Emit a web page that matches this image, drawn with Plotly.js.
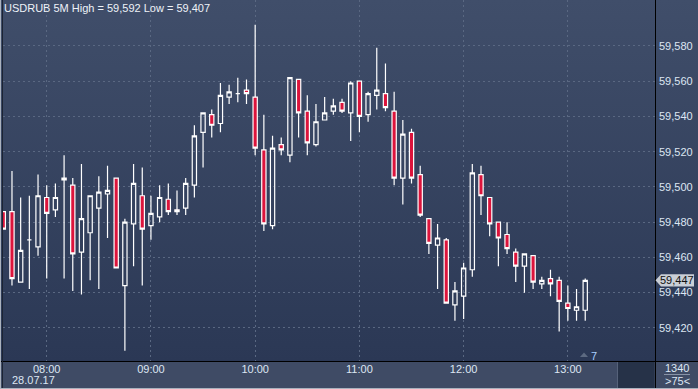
<!DOCTYPE html>
<html>
<head>
<meta charset="utf-8">
<script src="https://cdn.plot.ly/plotly-3.0.1.min.js"></script>
<style>
  html, body { margin: 0; padding: 0; background: #3f4b65; }
  #chart { width: 698px; height: 389px;
    background: linear-gradient(to bottom, #404e6a 0px, #2b3855 361px, #3f4b65 361px, #3f4b65 389px); }
</style>
</head>
<body>
<div id="chart"></div>
<script>
// ---- data (USDRUB, 5-minute candles, 28.07.17) ----
const symbol = "USDRUB";
const period = "5M";
const dateLabel = "28.07.17";
const day = "2017-07-28";
const times = ["07:35","07:40","07:45","07:50","07:55",
  "08:00","08:05","08:10","08:15","08:20","08:25","08:30","08:35","08:40","08:45","08:50","08:55",
  "09:00","09:05","09:10","09:15","09:20","09:25","09:30","09:35","09:40","09:45","09:50","09:55",
  "10:00","10:05","10:10","10:15","10:20","10:25","10:30","10:35","10:40","10:45","10:50","10:55",
  "11:00","11:05","11:10","11:15","11:20","11:25","11:30","11:35","11:40","11:45","11:50","11:55",
  "12:00","12:05","12:10","12:15","12:20","12:25","12:30","12:35","12:40","12:45","12:50","12:55",
  "13:00","13:05","13:10"];
const opens = [59.486,59.486,59.446,59.470,59.466,
  59.494,59.487,59.505,59.501,59.463,59.474,59.488,59.496,59.505,59.444,59.479,59.495,
  59.478,59.483,59.493,59.487,59.488,59.501,59.531,59.541,59.536,59.551,59.553,59.555,
  59.551,59.521,59.478,59.524,59.518,59.561,59.543,59.524,59.538,59.543,59.548,59.542,
  59.560,59.541,59.552,59.553,59.543,59.505,59.531,59.507,59.482,59.467,59.470,59.433,
  59.438,59.453,59.507,59.494,59.480,59.473,59.463,59.455,59.461,59.445,59.448,59.447,
  59.434,59.430,59.430];
const highs = [59.486,59.509,59.494,59.495,59.507,
  59.501,59.502,59.518,59.505,59.513,59.495,59.506,59.512,59.505,59.482,59.513,59.511,
  59.495,59.501,59.502,59.498,59.505,59.535,59.542,59.544,59.559,59.558,59.562,59.561,
  59.592,59.541,59.529,59.528,59.562,59.561,59.552,59.547,59.551,59.550,59.550,59.560,
  59.560,59.554,59.579,59.570,59.554,59.538,59.533,59.512,59.482,59.479,59.471,59.446,
  59.457,59.513,59.512,59.494,59.480,59.480,59.465,59.462,59.461,59.449,59.453,59.449,
  59.444,59.442,59.448];
const lows = [59.476,59.444,59.446,59.442,59.461,
  59.448,59.483,59.448,59.441,59.439,59.447,59.442,59.471,59.454,59.407,59.455,59.444,
  59.470,59.480,59.484,59.484,59.484,59.494,59.511,59.528,59.531,59.547,59.548,59.547,
  59.518,59.475,59.476,59.518,59.514,59.528,59.518,59.523,59.538,59.541,59.542,59.526,
  59.531,59.537,59.544,59.543,59.501,59.490,59.502,59.483,59.462,59.442,59.434,59.424,
  59.425,59.449,59.484,59.472,59.455,59.462,59.446,59.440,59.442,59.442,59.438,59.418,
  59.424,59.424,59.424];
const closes = [59.476,59.448,59.464,59.470,59.495,
  59.485,59.494,59.504,59.462,59.482,59.495,59.497,59.498,59.454,59.480,59.502,59.476,
  59.485,59.494,59.486,59.486,59.502,59.529,59.542,59.535,59.552,59.554,59.553,59.553,
  59.522,59.479,59.522,59.521,59.562,59.542,59.525,59.537,59.542,59.546,59.543,59.559,
  59.540,59.553,59.555,59.545,59.505,59.530,59.505,59.484,59.468,59.471,59.434,59.441,
  59.454,59.508,59.495,59.479,59.471,59.465,59.455,59.462,59.446,59.447,59.445,59.435,
  59.431,59.432,59.447];
const hourTicks = ["08:00","09:00","10:00","11:00","12:00","13:00"];
const yTicks = [59.42,59.44,59.46,59.48,59.50,59.52,59.54,59.56,59.58];
const barCount = 1340;
const zoomLabel = ">75<";
const markerLabel = "7";

// ---- layout helpers ----
const W = 698, H = 389, L = 3, R = 655, T = 0, B = 361;
const px = x => (x - L) / (R - L);
const py = y => (B - y) / (B - T);
const fmt = v => v.toFixed(3).replace('.', ',');
const FONT = "Liberation Sans Narrow, Arial Narrow, Liberation Sans, Arial, sans-serif";
const TXT = "#dde6f3";

const xs = times.map(t => day + " " + t);
const hi = Math.max(...highs), lo = Math.min(...lows);
const last = closes[closes.length - 1];

const trace = {
  type: "candlestick",
  x: xs, open: opens, high: highs, low: lows, close: closes,
  increasing: { line: { color: "#ffffff", width: 1.2 }, fillcolor: "rgba(0,0,0,0)" },
  decreasing: { line: { color: "#ffffff", width: 1.2 }, fillcolor: "#dc143c" },
  whiskerwidth: 0,
  hoverinfo: "skip",
  showlegend: false
};

const hh = 0.0035; // half height of price box in data units
const shapes = [
  { type: "rect", xref: "paper", yref: "paper", x0: px(618), x1: px(654.5), y0: py(388), y1: py(361.5),
    fillcolor: "#263248", line: { width: 0 }, layer: "above" },
  { type: "line", xref: "paper", yref: "paper", x0: px(617.5), x1: px(617.5), y0: py(388), y1: py(362),
    line: { color: "#56627a", width: 1 } },
  { type: "line", xref: "paper", yref: "paper", x0: px(655.5), x1: px(655.5), y0: py(389), y1: py(0),
    line: { color: "#000000", width: 1 } },
  { type: "line", xref: "paper", yref: "paper", x0: px(0), x1: px(698), y0: py(361.5), y1: py(361.5),
    line: { color: "#000000", width: 1 } },
  { type: "line", xref: "paper", yref: "paper", x0: px(2.5), x1: px(2.5), y0: py(389), y1: py(0),
    line: { color: "#1c2433", width: 1 } },
  { type: "line", xref: "paper", yref: "paper", x0: px(0.5), x1: px(0.5), y0: py(389), y1: py(0),
    line: { color: "#aab2be", width: 1 } },
  { type: "line", xref: "paper", yref: "paper", x0: px(0), x1: px(698), y0: py(388.5), y1: py(388.5),
    line: { color: "#aab2be", width: 1 } },
  { type: "line", xref: "paper", yref: "paper", x0: px(664), x1: px(690), y0: py(374.5), y1: py(374.5),
    line: { color: "#8893a6", width: 1 } },
  { type: "path", xref: "paper", yref: "paper",
    path: `M ${px(580)},${py(357)} L ${px(584)},${py(352.5)} L ${px(588)},${py(357)} Z`,
    fillcolor: "#5d6a81", line: { width: 0 } },
  { type: "path", xref: "paper", yref: "y",
    path: `M ${px(655.5)},${last} L ${px(661)},${last + hh} L ${px(694)},${last + hh} L ${px(694)},${last - hh} L ${px(661)},${last - hh} Z`,
    fillcolor: "#c9ced6", line: { width: 0 } }
];

const annotations = [
  { xref: "paper", yref: "paper", x: px(3), y: py(1), xanchor: "left", yanchor: "top", showarrow: false,
    text: `${symbol} ${period} High = ${fmt(hi)} Low = ${fmt(lo)}`,
    font: { family: FONT, size: 11, color: "#eef2f8" }, borderpad: 0 },
  { xref: "paper", yref: "paper", x: px(33), y: py(380), xanchor: "center", yanchor: "middle", showarrow: false,
    text: dateLabel, font: { family: FONT, size: 11, color: TXT }, borderpad: 0 },
  { xref: "paper", yref: "paper", x: px(594), y: py(355.5), xanchor: "center", yanchor: "middle", showarrow: false,
    text: markerLabel, font: { family: FONT, size: 11, color: "#a9d0ff" } },
  { xref: "paper", yref: "paper", x: px(677), y: py(367.5), xanchor: "center", yanchor: "middle", showarrow: false,
    text: String(barCount), font: { family: FONT, size: 11, color: TXT }, borderpad: 0 },
  { xref: "paper", yref: "paper", x: px(677), y: py(381), xanchor: "center", yanchor: "middle", showarrow: false,
    text: zoomLabel, font: { family: FONT, size: 11, color: TXT }, borderpad: 0 },
  { xref: "paper", yref: "y", x: px(677), y: last, xanchor: "center", yanchor: "middle", showarrow: false,
    text: fmt(last), font: { family: FONT, size: 11, color: "#111111" } }
];

const layout = {
  width: W, height: H,
  margin: { l: L, r: W - R, t: T, b: H - B, pad: 0 },
  paper_bgcolor: "rgba(0,0,0,0)",
  plot_bgcolor: "rgba(0,0,0,0)",
  separators: ", ",
  showlegend: false,
  font: { family: FONT, size: 11, color: TXT },
  xaxis: {
    type: "date",
    range: [day + " 07:34:50", day + " 13:50:10"],
    rangeslider: { visible: false },
    tickvals: hourTicks.map(t => day + " " + t),
    ticktext: hourTicks,
    showgrid: true, gridcolor: "#5a6882", griddash: "2px,3px", gridwidth: 1,
    zeroline: false, showline: false, ticks: "",
    tickfont: { family: FONT, size: 11, color: TXT },
    ticklabelstandoff: 0,
    fixedrange: true
  },
  yaxis: {
    side: "right",
    range: [59.4012, 59.6061],
    tickvals: yTicks,
    tickformat: ".3f",
    showgrid: true, gridcolor: "#5a6882", griddash: "2px,3px", gridwidth: 1,
    zeroline: false, showline: false, ticks: "",
    tickfont: { family: FONT, size: 11, color: TXT },
    ticklabelstandoff: 3,
    fixedrange: true
  },
  shapes: shapes,
  annotations: annotations
};

Plotly.newPlot("chart", [trace], layout, { displayModeBar: false, staticPlot: true });
</script>
</body>
</html>
